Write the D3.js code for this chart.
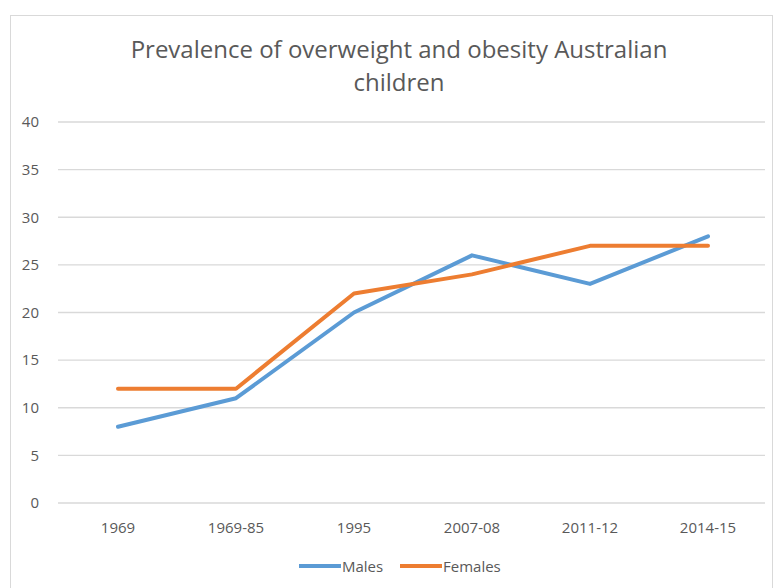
<!DOCTYPE html>
<html>
<head>
<meta charset="utf-8">
<script src="https://cdn.jsdelivr.net/npm/d3@7"></script>
<style>
  body { margin: 0; background: #fff; }
  svg { display: block; font-family: "Open Sans", Lato, sans-serif; }
</style>
</head>
<body>
<div class="chart"></div>
<script>
const categories = ["1969", "1969-85", "1995", "2007-08", "2011-12", "2014-15"];
const males = [8, 11, 20, 26, 23, 28];
const females = [12, 12, 22, 24, 27, 27];
const yTicks = [0, 5, 10, 15, 20, 25, 30, 35, 40];

const width = 776, height = 588;
const margin = { top: 122, right: 9, bottom: 85, left: 59 };

const svg = d3.select(".chart").append("svg")
    .attr("width", width)
    .attr("height", height);

// chart frame
svg.append("rect")
    .attr("x", 10.5).attr("y", 15.5)
    .attr("width", 762).attr("height", 600)
    .attr("fill", "#fff")
    .attr("stroke", "#d9d9d9");

const x = d3.scaleBand()
    .domain(categories)
    .range([margin.left, width - margin.right]);

const y = d3.scaleLinear()
    .domain([0, 40])
    .range([height - margin.bottom, margin.top]);

// gridlines
svg.append("g")
    .selectAll("line")
    .data(yTicks)
    .join("line")
    .attr("x1", margin.left - 1)
    .attr("x2", width - margin.right - 2)
    .attr("y1", d => y(d))
    .attr("y2", d => y(d))
    .attr("stroke", "#d9d9d9")
    .attr("stroke-width", 1.3);

const yAxis = g => g
    .attr("transform", `translate(${margin.left - 17},0)`)
    .call(d3.axisLeft(y).tickValues(yTicks).tickSize(0))
    .call(g => g.select(".domain").remove())
    .call(g => g.selectAll("text")
        .attr("fill", "#595959")
        .attr("font-size", 15)
        .attr("font-family", "Open Sans, sans-serif"));

const xAxis = g => g
    .attr("transform", `translate(0,${height - margin.bottom + 16})`)
    .call(d3.axisBottom(x).tickSize(0))
    .call(g => g.select(".domain").remove())
    .call(g => g.selectAll("text")
        .attr("fill", "#595959")
        .attr("font-size", 15)
        .attr("font-family", "Open Sans, sans-serif"));

svg.append("g").call(yAxis);
svg.append("g").call(xAxis);

const line = d3.line()
    .x((d, i) => x(categories[i]) + x.bandwidth() / 2)
    .y(d => y(d));

const series = [
    { name: "Males", values: males, color: "#5b9bd5" },
    { name: "Females", values: females, color: "#ed7d31" }
];

series.forEach(s => {
    svg.append("path")
        .datum(s.values)
        .attr("fill", "none")
        .attr("stroke", s.color)
        .attr("stroke-width", 4)
        .attr("stroke-linejoin", "round")
        .attr("stroke-linecap", "round")
        .attr("d", line);
});

// title
const title = svg.append("text")
    .attr("text-anchor", "middle")
    .attr("fill", "#595959")
    .attr("font-size", 24);
title.append("tspan").attr("x", 399).attr("y", 58).text("Prevalence of overweight and obesity Australian");
title.append("tspan").attr("x", 399).attr("y", 91).text("children");

// legend
const legend = svg.append("g");
const legendX = [299, 400];
series.forEach((s, i) => {
    const g = legend.append("g").attr("transform", `translate(${legendX[i]},566)`);
    g.append("line")
        .attr("x1", 0).attr("x2", 42)
        .attr("stroke", s.color)
        .attr("stroke-width", 4);
    g.append("text")
        .attr("x", 43).attr("y", 5.5)
        .attr("fill", "#595959")
        .attr("font-size", 15)
        .text(s.name);
});
</script>
</body>
</html>
